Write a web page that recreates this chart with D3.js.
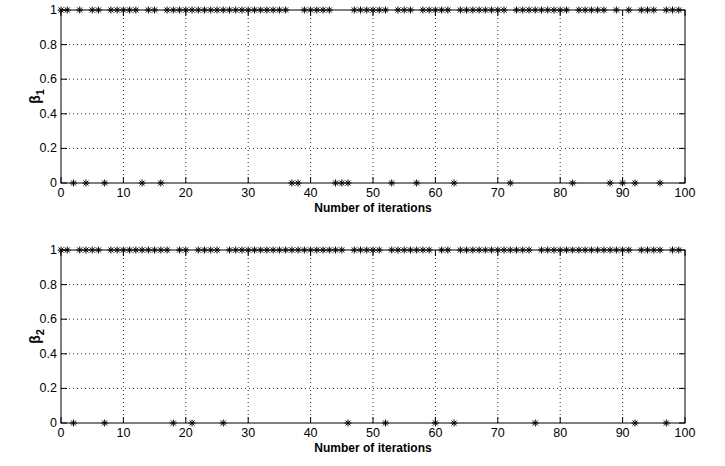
<!DOCTYPE html>
<html><head>
<script src="https://d3js.org/d3.v7.min.js"></script>
<style>
body { margin: 0; background: #fff; }
text { font-family: "Liberation Sans", Arial, sans-serif; }
</style>
</head>
<body>
<svg id="chart" width="725" height="466"></svg>
<script>
// iterations 0..99
var iterations = d3.range(0, 100);

var beta1 = [
  1,1,0,1,0,1,1,0,1,1,
  1,1,1,0,1,1,0,1,1,1,
  1,1,1,1,1,1,1,1,1,1,
  1,1,1,1,1,1,1,0,0,1,
  1,1,1,1,0,0,0,1,1,1,
  1,1,1,0,1,1,1,0,1,1,
  1,1,1,0,1,1,1,1,1,1,
  1,1,0,1,1,1,1,1,1,1,
  1,1,0,1,1,1,1,1,0,1,
  0,1,0,1,1,1,0,1,1,1
];

var beta2 = [
  1,1,0,1,1,1,1,0,1,1,
  1,1,1,1,1,1,1,1,0,1,
  1,0,1,1,1,1,0,1,1,1,
  1,1,1,1,1,1,1,1,1,1,
  1,1,1,1,1,1,0,1,1,1,
  1,1,0,1,1,1,1,1,1,1,
  0,1,1,0,1,1,1,1,1,1,
  1,1,1,1,1,1,0,1,1,1,
  1,1,1,1,1,1,1,1,1,1,
  1,1,0,1,1,1,1,0,1,1
];

var xTicks = [0,10,20,30,40,50,60,70,80,90,100];
var yTicks = [0,0.2,0.4,0.6,0.8,1];

var svg = d3.select("#chart");
var left = 61, right = 685;

var x = d3.scaleLinear().domain([0,100]).range([left,right]);

function star(cx, cy, r) {
  var q = r*0.72;
  return "M" + (cx-r) + "," + cy + "L" + (cx+r) + "," + cy +
         "M" + cx + "," + (cy-r) + "L" + cx + "," + (cy+r) +
         "M" + (cx-q) + "," + (cy-q) + "L" + (cx+q) + "," + (cy+q) +
         "M" + (cx-q) + "," + (cy+q) + "L" + (cx+q) + "," + (cy-q);
}

function panel(top, bottom, values, sub) {
  var y = d3.scaleLinear().domain([0,1]).range([bottom,top]);
  var g = svg.append("g");

  // grid
  g.selectAll(".gx").data(xTicks.slice(1,-1)).enter().append("line")
    .attr("x1", d => x(d)).attr("x2", d => x(d))
    .attr("y1", top).attr("y2", bottom)
    .attr("stroke", "#000").attr("stroke-width", 0.8)
    .attr("stroke-dasharray", "1,3");
  g.selectAll(".gy").data(yTicks.slice(1,-1)).enter().append("line")
    .attr("x1", left).attr("x2", right)
    .attr("y1", d => y(d)).attr("y2", d => y(d))
    .attr("stroke", "#000").attr("stroke-width", 0.8)
    .attr("stroke-dasharray", "1,3");

  // box
  g.append("rect").attr("x", left).attr("y", top)
    .attr("width", right-left).attr("height", bottom-top)
    .attr("fill", "none").attr("stroke", "#000").attr("stroke-width", 1);

  // inward ticks
  var tl = 6;
  xTicks.forEach(function(t) {
    g.append("line").attr("x1", x(t)).attr("x2", x(t))
      .attr("y1", bottom).attr("y2", bottom-tl).attr("stroke", "#000");
    g.append("line").attr("x1", x(t)).attr("x2", x(t))
      .attr("y1", top).attr("y2", top+tl).attr("stroke", "#000");
  });
  yTicks.forEach(function(t) {
    g.append("line").attr("x1", left).attr("x2", left+tl)
      .attr("y1", y(t)).attr("y2", y(t)).attr("stroke", "#000");
    g.append("line").attr("x1", right).attr("x2", right-tl)
      .attr("y1", y(t)).attr("y2", y(t)).attr("stroke", "#000");
  });

  // tick labels
  g.selectAll(".xl").data(xTicks).enter().append("text")
    .attr("x", d => x(d)).attr("y", bottom + 14)
    .attr("text-anchor", "middle").attr("font-size", 12.5)
    .text(d => d);
  g.selectAll(".yl").data(yTicks).enter().append("text")
    .attr("x", left - 4).attr("y", d => y(d) + 4)
    .attr("text-anchor", "end").attr("font-size", 12.5)
    .text(d => d);

  // axis labels
  g.append("text").attr("x", (left+right)/2).attr("y", bottom + 29)
    .attr("text-anchor", "middle").attr("font-size", 12)
    .attr("font-weight", "bold").text("Number of iterations");

  var yl = g.append("text")
    .attr("transform", "translate(40," + ((top+bottom)/2) + ") rotate(-90)")
    .attr("text-anchor", "middle").attr("font-size", 14)
    .attr("font-weight", "bold");
  yl.append("tspan").text("\u03B2");
  yl.append("tspan").attr("font-size", 11).attr("dy", 4).text(sub);

  // markers
  g.selectAll(".pt").data(iterations).enter().append("path")
    .attr("d", (d,i) => star(x(d), y(values[i]), 3.5))
    .attr("stroke", "#000").attr("stroke-width", 1).attr("fill", "none");
}

panel(10, 183, beta1, "1");
panel(250, 423, beta2, "2");
</script>
</body></html>
